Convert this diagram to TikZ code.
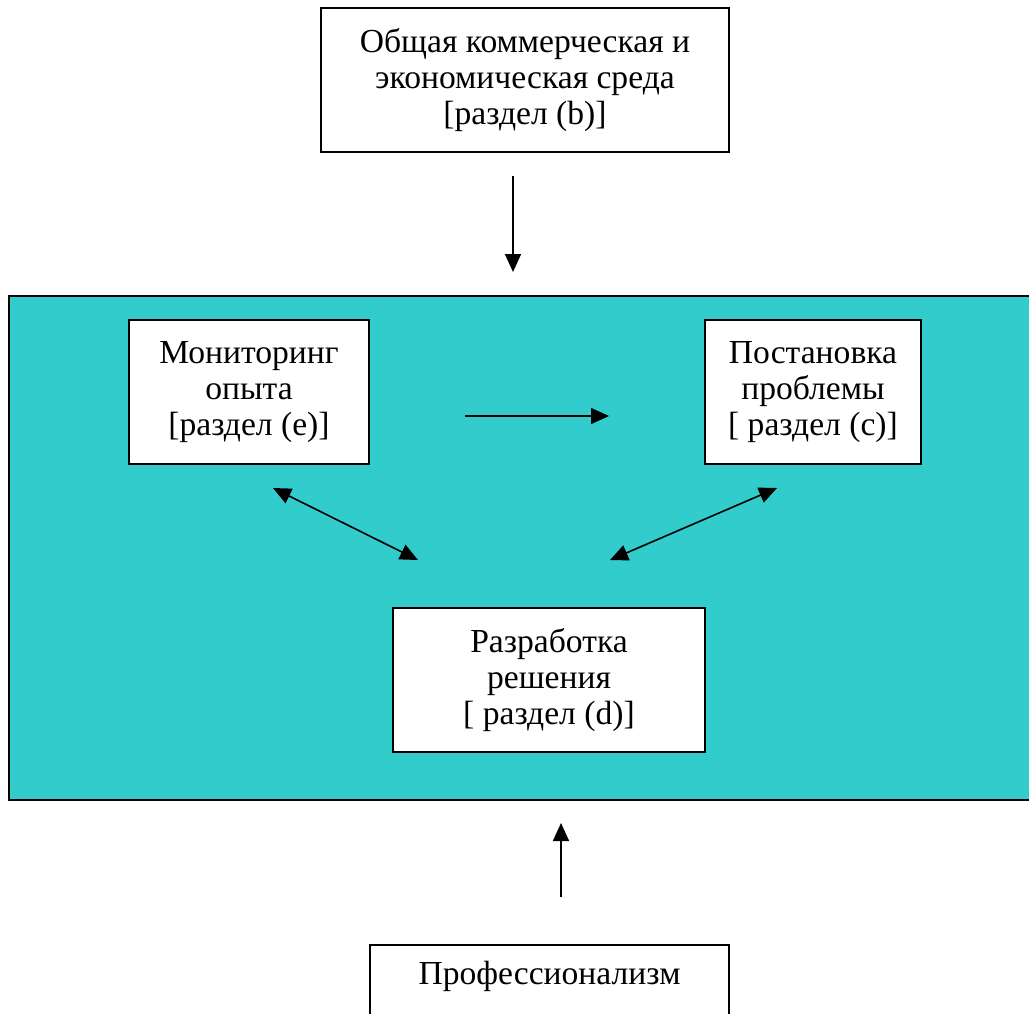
\documentclass[tikz,border=0pt]{standalone}
\usepackage{fontspec}
\setmainfont{Liberation Serif}
\usepackage{tikz}
\usetikzlibrary{positioning,calc,arrows.meta}

\definecolor{fieldcol}{HTML}{33CCCC}
\tikzset{
    box/.style={draw, thick, fill=white, align=center, inner sep=0pt},
    tip/.style={-{Triangle[length=9pt,width=8pt]}, thick},
    dtip/.style={{Triangle[length=9pt,width=8pt]}-{Triangle[length=9pt,width=8pt]}, thick}
}

\begin{document}
\begin{tikzpicture}[x=0.5pt, y=-0.5pt, font=\fontsize{16.8}{18}\selectfont]
    \useasboundingbox (0,0) rectangle (1029,1013);
    \clip (0,0) rectangle (1029,1013);
    % background field
    \draw[thick, fill=fieldcol] (9,296) rectangle (1040,800);
    % boxes
    \node[box, minimum width=204pt, minimum height=72pt] (env) at (525,80)
        {Общая коммерческая и\\экономическая среда\\{[}раздел (b)]};
    \node[box, minimum width=120pt, minimum height=72pt] (mon) at (249,392)
        {Мониторинг\\опыта\\{[}раздел (e)]};
    \node[box, minimum width=108pt, minimum height=72pt] (prob) at (813,392)
        {Постановка\\проблемы\\{[} раздел (c)]};
    \node[box, minimum width=156pt, minimum height=72pt] (sol) at (549,680)
        {Разработка\\решения\\{[} раздел (d)]};
    \node[box, anchor=north, minimum width=179.5pt, inner ysep=4pt,
          text height=16pt, text depth=30pt] (prof) at (549.5,944) {Профессионализм};
    % arrow ends
    \coordinate (a1) at (513,176);  \coordinate (a2) at (513,272);
    \coordinate (b1) at (465,416);  \coordinate (b2) at (609,416);
    \coordinate (c1) at (273,488);  \coordinate (c2) at (418,560);
    \coordinate (d1) at (777,488);  \coordinate (d2) at (610,560);
    \coordinate (e1) at (561,897);  \coordinate (e2) at (561,823);
    % connectors
    \draw[tip] (a1) -- (a2);
    \draw[tip] (b1) -- (b2);
    \draw[dtip] (c1) -- (c2);
    \draw[dtip] (d1) -- (d2);
    \draw[tip] (e1) -- (e2);
\end{tikzpicture}
\end{document}
